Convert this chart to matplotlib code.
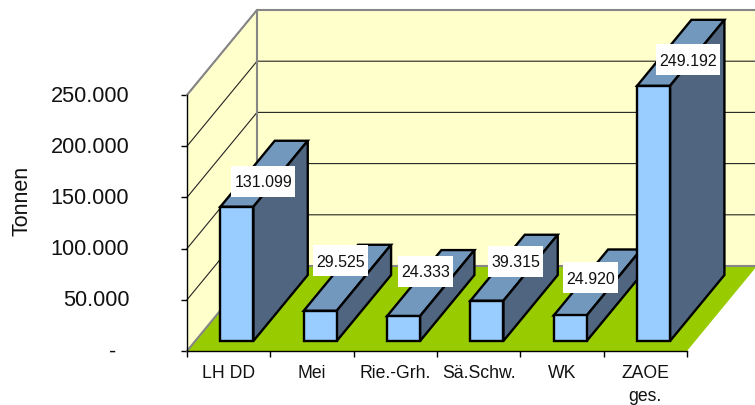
import matplotlib
matplotlib.use("Agg")
import matplotlib.pyplot as plt
from matplotlib.patches import Polygon, Rectangle
from matplotlib.transforms import ScaledTranslation

categories = ["LH DD", "Mei", "Rie.-Grh.", "Sä.Schw.", "WK", "ZAOE\nges."]
values = [131099, 29525, 24333, 39315, 24920, 249192]
value_labels = ["131.099", "29.525", "24.333", "39.315", "24.920", "249.192"]
y_ticks = [0, 50000, 100000, 150000, 200000, 250000]
y_tick_labels = ["-", "50.000", "100.000", "150.000", "200.000", "250.000"]

plt.rcParams["font.family"] = ["Liberation Sans", "DejaVu Sans"]

W, H = 755, 405
fig = plt.figure(figsize=(W / 100, H / 100), dpi=100)
ax = fig.add_axes([187 / W, 1 - 351 / H, 500 / W, 256 / H])
ax.set_xlim(0, 6)
ax.set_ylim(0, 250000)
ax.patch.set_visible(False)

# one pixel in data units
px = 6 / 500
py = 250000 / 256
# full depth of the fake 3d box
depth_x = 70 * px
depth_y = 85 * py


def proj(x, y, d):
    return (x + d * depth_x, y + d * depth_y)


def poly(points, face, edge="none", lw=0.0, z=1):
    ax.add_patch(Polygon(points, closed=True, facecolor=face, edgecolor=edge,
                         linewidth=lw, zorder=z, clip_on=False, joinstyle="miter"))


wall = "#FFFFCC"
floor = "#99CC00"
grey = "#868686"
front_c = "#99CCFF"
top_c = "#7299BD"
side_c = "#506680"

poly([proj(0, 0, 0), proj(0, 250000, 0), proj(0, 250000, 1), proj(0, 0, 1)], wall, z=1)
poly([proj(0, 0, 1), proj(0, 250000, 1), proj(6, 250000, 1), proj(6, 0, 1)], wall, z=1)
poly([proj(0, 0, 0), proj(6, 0, 0), proj(6, 0, 1), proj(0, 0, 1)], floor, z=2)

for t in y_ticks[1:]:
    a, b, c = proj(0, t, 0), proj(0, t, 1), proj(6, t, 1)
    ax.plot([a[0], b[0], c[0]], [a[1], b[1], c[1]], color="#222222", lw=0.8, zorder=1.5,
            clip_on=False)

# grey outline of the walls
a, b, c = proj(0, 250000, 0), proj(0, 250000, 1), proj(6, 250000, 1)
ax.plot([a[0], b[0], c[0]], [a[1], b[1], c[1]], color=grey, lw=1.5, zorder=3, clip_on=False)
a, b = proj(0, 0, 1), proj(0, 250000, 1)
ax.plot([a[0], b[0]], [a[1], b[1]], color=grey, lw=1.5, zorder=1.6, clip_on=False)
a, b, c = proj(0, 0, 0), proj(0, 0, 1), proj(6, 0, 1)
ax.plot([a[0], b[0], c[0]], [a[1], b[1], c[1]], color=grey, lw=1.5, zorder=2.5, clip_on=False)

# bars, left to right so later ones cover earlier ones
bar_w = 33 * px
d0 = 10 / 85
d1 = 76 / 85
for i, v in enumerate(values):
    z = 4 + i * 0.1
    x0 = i + 0.5 - bar_w / 2
    x1 = i + 0.5 + bar_w / 2
    bar_style = dict(edge="black", lw=1.7, z=z)
    poly([proj(x0, v, d0), proj(x1, v, d0), proj(x1, v, d1), proj(x0, v, d1)], top_c, **bar_style)
    poly([proj(x1, 0, d0), proj(x1, v, d0), proj(x1, v, d1), proj(x1, 0, d1)], side_c, **bar_style)
    poly([proj(x0, 0, d0), proj(x1, 0, d0), proj(x1, v, d0), proj(x0, v, d0)], front_c, **bar_style)

# label boxes were placed by hand in the original, offsets from bar top centre in pixels
label_dx = [26.5, 20.3, 22, 28.6, 20.3, 34.5]
label_dy = [25.7, 49.8, 44.6, 39.7, 37.5, 26]
for i, v in enumerate(values):
    cx, cy = proj(i + 0.5, v, d0)
    cx += label_dx[i] * px
    cy += label_dy[i] * py
    bw = (64 if len(value_labels[i]) > 6 else 55) * px
    bh = 31 * py
    ax.add_patch(Rectangle((cx - bw / 2, cy - bh / 2), bw, bh, facecolor="white", edgecolor="none",
                           zorder=6, clip_on=False))
    ax.text(cx, cy, value_labels[i], ha="center", va="center_baseline", fontsize=11.5, color="#111111",
            zorder=7, clip_on=False)

for s in ["top", "right"]:
    ax.spines[s].set_visible(False)
for s in ["left", "bottom"]:
    ax.spines[s].set_linewidth(1.0)
    ax.spines[s].set_zorder(3.5)

ax.set_xticks(range(7))
ax.set_xticklabels([])
ax.set_xticks([i + 0.5 for i in range(6)], minor=True)
ax.set_xticklabels(categories, minor=True, fontsize=12.7, linespacing=1.45, color="#111111")
ax.tick_params(axis="x", which="major", length=4, width=1.0)
ax.tick_params(axis="x", which="minor", length=0, pad=10)
ax.set_yticks(y_ticks)
ax.set_yticklabels(y_tick_labels, fontsize=15.7, color="#111111")
ax.tick_params(axis="y", length=4, width=1.0, pad=37.5)

# nudge the value labels up a bit, the dash for zero sits further left
for k, lab in enumerate(ax.get_yticklabels()):
    shift = -13 if k == 0 else 0
    lab.set_transform(lab.get_transform() + ScaledTranslation(shift / 100, 1.5 / 100, fig.dpi_scale_trans))

fig.text(22 / W, 1 - 201 / H, "Tonnen", rotation=90, ha="center", va="center", fontsize=15.5,
         color="#111111")

fig.savefig("out.png", dpi=100)
